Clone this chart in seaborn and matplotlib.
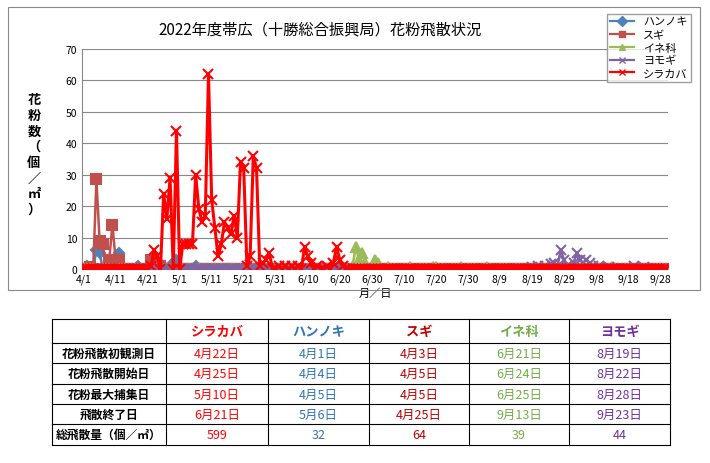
import numpy as np
import pandas as pd
import matplotlib
matplotlib.use("Agg")
import matplotlib.pyplot as plt
import seaborn as sns
from matplotlib.lines import Line2D
import datetime as dt

plt.rcParams["font.family"] = ["Noto Sans CJK JP", "DejaVu Sans"]

title = "2022年度帯広（十勝総合振興局）花粉飛散状況"
series_names = ["ハンノキ", "スギ", "イネ科", "ヨモギ", "シラカバ"]
series_colors = ["#4F81BD", "#C0504D", "#9BBB59", "#8064A2", "#FF0000"]
series_markers = ["D", "s", "^", "x", "x"]

# nonzero daily counts (month, day): value
hannoki = {(4,2):1,(4,5):6,(4,6):5,(4,12):5,(4,13):1,(4,18):1,(4,29):2,(4,30):3,(5,6):1}
sugi = {(4,3):0.5,(4,5):28.5,(4,6):9,(4,7):8,(4,9):3,(4,10):14,(4,11):3,(4,12):3,(4,22):3,(4,25):1}
ine = {(6,21):0.5,(6,24):1,(6,25):7,(6,26):3,(6,27):5,(6,28):2,(7,1):3,(7,2):2,(7,5):0.5,(7,12):0.5,
       (7,19):0.5,(7,20):0.5,(7,28):0.5,(8,5):0.5,(9,13):0.5}
yomogi = {(8,19):0.5,(8,21):1,(8,23):1,(8,25):1.5,(8,26):2,(8,27):1,(8,28):6,(8,29):3,(8,30):1,
          (9,1):2,(9,2):5,(9,3):3,(9,4):2,(9,5):3,(9,6):2,(9,7):1,(9,9):1,(9,12):0.5,(9,20):1,(9,23):0.5}
shirakaba = {(4,22):1,(4,23):6,(4,24):4,(4,26):24,(4,27):16,(4,28):29,(4,30):44,(5,1):0,(5,2):8,(5,3):8,
             (5,4):8,(5,5):8,(5,6):30,(5,7):19,(5,8):15,(5,9):17,(5,10):62,(5,11):22,(5,12):13,(5,13):4,
             (5,14):8,(5,15):15,(5,16):13,(5,17):11,(5,18):17,(5,19):10,(5,20):34,(5,21):32,(5,22):1,
             (5,23):4,(5,24):36,(5,25):32,(5,26):1,(5,27):2,(5,28):3,(5,29):5,(6,1):1,(6,3):1,(6,5):1,
             (6,7):1,(6,9):7,(6,10):4,(6,11):2,(6,13):1,(6,16):1,(6,18):2,(6,19):7,(6,20):3,(6,21):1}

table_rows = ["花粉飛散初観測日", "花粉飛散開始日", "花粉最大捕集日", "飛散終了日", "総飛散量（個／㎡）"]
table_cols = ["シラカバ", "ハンノキ", "スギ", "イネ科", "ヨモギ"]
table_colors = ["#FF0000", "#2E75B6", "#C00000", "#70AD47", "#7030A0"]
table_data = [["4月22日", "4月1日", "4月3日", "6月21日", "8月19日"],
              ["4月25日", "4月4日", "4月5日", "6月24日", "8月22日"],
              ["5月10日", "4月5日", "4月5日", "6月25日", "8月28日"],
              ["6月21日", "5月6日", "4月25日", "9月13日", "9月23日"],
              ["599", "32", "64", "39", "44"]]

start = dt.date(2022, 4, 1)
days = [start + dt.timedelta(days=i) for i in range(183)]
rows = []
for name, d in zip(series_names, [hannoki, sugi, ine, yomogi, shirakaba]):
    for i, day in enumerate(days):
        rows.append({"day": i, "value": d.get((day.month, day.day), 0), "series": name})
df = pd.DataFrame(rows)

fig = plt.figure(figsize=(7.1, 4.64), dpi=100)
W, H = 710, 464
def fx(px): return px / W
def fy(py): return 1 - py / H

fig.patches.append(plt.Rectangle((fx(8), fy(291)), fx(692), (283) / H, transform=fig.transFigure,
                                 fill=False, ec="#888888", lw=0.8))
ax = fig.add_axes([fx(82), fy(270), fx(586), (270 - 50) / H])
for name, c, m in zip(series_names, series_colors, series_markers):
    sub = df[df.series == name]
    sns.lineplot(data=sub, x="day", y="value", ax=ax, color=c, marker=m,
                 markersize=5 if m == "D" else 7,
                 markeredgecolor=c, markeredgewidth=1.5, lw=2.2 if name == "シラカバ" else 1.8,
                 legend=False, zorder=3)
ax.set_ylim(0, 70)
ax.set_xlim(-0.5, 182.5)
ax.set_yticks(range(0, 71, 10))
ticks = list(range(0, 183, 10))
ax.set_xticks(ticks)
ax.set_xticklabels([f"{days[t].month}/{days[t].day}" for t in ticks], fontsize=7.5)
ax.tick_params(axis="y", labelsize=7.5, length=0)
ax.tick_params(axis="x", length=0)
ax.grid(axis="y", color="#888888", lw=0.8)
ax.set_axisbelow(True)
for s in ["top", "right"]:
    ax.spines[s].set_visible(False)
ax.spines["left"].set_color("#888888")
ax.spines["bottom"].set_color("#888888")
ax.set_xlabel("月／日", fontsize=8, labelpad=2)
ax.set_ylabel("")
fig.text(fx(320), fy(30), title, ha="center", va="center", fontsize=11)
fig.text(fx(34), fy(155), "\n".join("花粉数（個／㎡）"), ha="center", va="center", fontsize=9.5,
         fontweight="bold", linespacing=1.15)

handles = [Line2D([0], [0], color=c, marker=m, markersize=5, lw=1.6) for c, m in zip(series_colors, series_markers)]
leg = fig.legend(handles, series_names, loc="upper left", bbox_to_anchor=(fx(601), fy(9)),
                 fontsize=8, frameon=True, edgecolor="#888888", fancybox=False, borderpad=0.3,
                 handlelength=2.2, labelspacing=0.25)

tx = [52, 166, 268, 369, 469, 569, 670]
ty = [320, 344, 364, 385, 405, 425, 446]
for x in tx:
    fig.add_artist(Line2D([fx(x), fx(x)], [fy(ty[0]), fy(ty[-1])], color="black", lw=0.8))
for y in ty:
    fig.add_artist(Line2D([fx(tx[0]), fx(tx[-1])], [fy(y), fy(y)], color="black", lw=0.8))
for j, (col, c) in enumerate(zip(table_cols, table_colors)):
    fig.text(fx((tx[j+1] + tx[j+2]) / 2), fy((ty[0] + ty[1]) / 2), col, ha="center", va="center",
             fontsize=9.5, color=c, fontweight="bold")
for i, r in enumerate(table_rows):
    yc = fy((ty[i+1] + ty[i+2]) / 2)
    fig.text(fx((tx[0] + tx[1]) / 2), yc, r, ha="center", va="center", fontsize=8.5, fontweight="bold")
    for j in range(5):
        fig.text(fx((tx[j+1] + tx[j+2]) / 2), yc, table_data[i][j], ha="center", va="center", fontsize=9, color=table_colors[j])

fig.savefig("out.png", dpi=100)
